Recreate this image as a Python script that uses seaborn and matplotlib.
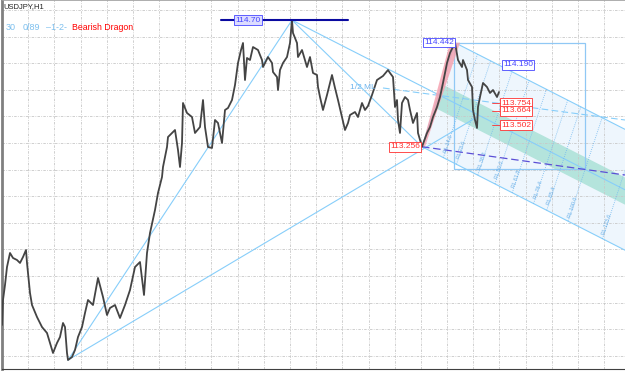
import numpy as np
import pandas as pd
import seaborn as sns
import matplotlib
matplotlib.use("Agg")
import matplotlib.pyplot as plt
from matplotlib.patches import Polygon, Rectangle

# ------------------------------------------------------------------
# data (bar index, price)
# ------------------------------------------------------------------
bars = [2, 3, 5, 7, 10, 13, 17, 20, 23, 26, 27, 28, 30, 32, 37, 42, 47, 50, 53, 57,
        60, 63, 65, 67, 68, 72, 75, 78, 82, 85, 88, 93, 98, 103, 107, 110, 115, 120, 125, 130,
        135, 140, 144, 147, 150, 155, 158, 162, 163, 167, 168, 172, 175, 178, 180, 182, 183, 187, 192, 195,
        200, 203, 205, 208, 212, 215, 218, 222, 225, 228, 232, 235, 238, 241, 243, 245, 247, 250, 253, 258,
        262, 263, 268, 272, 273, 277, 278, 280, 283, 287, 290, 292, 293, 297, 298, 302, 305, 307, 310, 313,
        317, 318, 320, 323, 327, 332, 335, 338, 342, 345, 348, 350, 355, 358, 362, 365, 368, 372, 377, 380,
        383, 388, 390, 393, 395, 397, 398, 400, 402, 405, 408, 410, 413, 417, 418, 422, 427, 430, 433, 437,
        440, 443, 447, 450, 455, 458, 462, 463, 467, 468, 472, 473, 475, 477, 478, 480, 483, 487, 490, 493,
        497, 499]
close = [111.224, 111.509, 111.680, 111.885, 112.045, 111.988, 111.965, 111.931, 111.999, 112.079,
         111.931, 111.817, 111.589, 111.452, 111.315, 111.201, 111.133, 111.019, 110.905, 111.019,
         111.087, 111.247, 111.201, 110.905, 110.825, 110.859, 110.939, 111.087, 111.201, 111.361,
         111.509, 111.452, 111.760, 111.543, 111.338, 111.418, 111.452, 111.304, 111.452, 111.623,
         111.885, 111.942, 111.566, 112.045, 112.273, 112.535, 112.729, 112.911, 113.025, 113.253,
         113.367, 113.413, 113.447, 113.219, 113.025, 113.299, 113.755, 113.641, 113.595, 113.413,
         113.481, 113.789, 113.481, 113.253, 113.242, 113.561, 113.527, 113.299, 113.675, 113.698,
         113.789, 113.960, 114.211, 114.359, 114.439, 114.017, 114.268, 114.245, 114.393, 114.359,
         114.245, 114.165, 114.279, 114.211, 114.108, 114.051, 113.903, 114.131, 114.211, 114.279,
         114.439, 114.700, 114.553, 114.439, 114.279, 114.359, 114.245, 114.165, 114.279, 114.097,
         114.074, 113.937, 113.823, 113.675, 113.846, 114.074, 113.926, 113.789, 113.595, 113.447,
         113.527, 113.618, 113.652, 113.595, 113.755, 113.675, 113.721, 113.846, 114.017, 114.040,
         114.063, 114.131, 114.097, 114.051, 113.709, 113.789, 113.561, 113.413, 113.755, 113.823,
         113.789, 113.675, 113.527, 113.641, 113.413, 113.256, 113.413, 113.481, 113.595, 113.709,
         113.823, 113.983, 114.211, 114.325, 114.442, 114.245, 114.165, 114.245, 114.131, 114.017,
         113.937, 113.675, 113.561, 113.470, 113.709, 113.823, 113.983, 113.937, 113.869, 113.903,
         113.823, 113.880]

# swing points
low_bar, low_price = 68, 110.825
top_bar, top_price = 292, 114.70
a_bar, a_price = 455, 114.442
b_bar, b_price = 422, 113.256

fib_levels = [14.6, 23.6, 38.2, 50.0, 61.8, 76.4, 85.4, 100.0, 123.6]
red_tags = [113.754, 113.664, 113.502]
blue_tag = 114.190
half_ml = [(383, 113.926), (625, 113.561)]
low_ray_end = (477, 113.595)
purple_end = (625, 112.934)
box_bottom, box_right = 113.002, 585

df = pd.DataFrame({"bar": bars, "price": close})

# ------------------------------------------------------------------
sns.set_style("white")
plt.rcParams["font.family"] = ["Liberation Sans", "DejaVu Sans"]

PX = 0.0114          # price per screen pixel
TOP = 114.929
fig = plt.figure(figsize=(6.25, 3.72), dpi=100)
ax = fig.add_axes([2 / 625, 3 / 372, 623 / 625, 369 / 372])
ax.set_xlim(2, 625)
ax.set_ylim(TOP - PX * 369, TOP)

LB = "#87cefa"

# grid
for gx in np.arange(28.2, 625, 26.18):
    ax.axvline(gx, color="#c8c8c8", lw=0.6, ls=(0, (3, 1.5, 1, 1.5)), zorder=1.5)
for gy in np.arange(114.815, 110.7, -0.3032):
    ax.axhline(gy, color="#c8c8c8", lw=0.6, ls=(0, (3, 1.5, 1, 1.5)), zorder=1.5)

# pitchfork geometry
mid_bar = (a_bar + b_bar) / 2
mid_price = (a_price + b_price) / 2
slope = (mid_price - top_price) / (mid_bar - top_bar)
xr = 625


def median(x, off=0.0):
    return top_price + slope * (x - top_bar) + off


def upper(x):
    return a_price + slope * (x - a_bar)


def lower(x):
    return b_price + slope * (x - b_bar)


# channel fill
ax.add_patch(Polygon([(a_bar, a_price), (xr, upper(xr)), (xr, lower(xr)), (b_bar, b_price)],
                     closed=True, fc="#eef6fd", ec="none", zorder=1))


def on_base(off):
    den = (a_price - b_price) - slope * (a_bar - b_bar)
    t = (median(b_bar, off) - b_price) / den
    return b_bar + t * (a_bar - b_bar), b_price + t * (a_price - b_price)


band_hi, band_lo = 0.14, -0.17
p1 = on_base(band_hi)
p2 = on_base(band_lo)
ax.add_patch(Polygon([p1, (xr, median(xr, band_hi)), (xr, median(xr, band_lo)), p2],
                     closed=True, fc="#b4e4dc", ec="none", zorder=1.2))

# pink swing band
ax.add_patch(Polygon([(b_bar, b_price), (a_bar - 5, a_price), (a_bar + 5, a_price), (b_bar + 3, b_price)],
                     closed=True, fc="#f5a3b1", ec="none", alpha=0.85, zorder=2.2))

# rectangle
ax.add_patch(Rectangle((a_bar - 1, box_bottom), box_right - a_bar + 1, a_price - box_bottom,
                       fill=False, ec="#90c8f5", lw=0.9, zorder=2))

# fan / pitchfork lines
ax.plot([low_bar, top_bar], [low_price, top_price], color=LB, lw=0.8, zorder=2)
ax.plot([low_bar, low_ray_end[0]], [low_price, low_ray_end[1]], color=LB, lw=0.8, zorder=2)
ax.plot([top_bar, b_bar], [top_price, b_price], color=LB, lw=0.8, zorder=2)
ax.plot([top_bar, xr], [top_price, median(xr)], color=LB, lw=0.8, zorder=2)
ax.plot([a_bar, xr], [a_price, upper(xr)], color=LB, lw=0.8, zorder=2)
ax.plot([b_bar, xr], [b_price, lower(xr)], color=LB, lw=0.8, zorder=2)
ax.plot([b_bar, a_bar], [b_price, a_price], color=LB, lw=0.8, zorder=2)
ax.plot([h[0] for h in half_ml], [h[1] for h in half_ml], color=LB, lw=0.8,
        ls=(0, (6, 3)), zorder=2)
ax.text(350, 113.937, "1/2 ML", color="#6cb4ee", fontsize=6, va="center", zorder=4)
ax.plot([b_bar, purple_end[0]], [b_price, purple_end[1]], color="#5b4fd6", lw=0.9,
        ls=(0, (6, 3)), zorder=2.5)

# fib time lines across the channel
gap = upper(0) - lower(0)
s_len = gap / (PX - 0.33 * slope)
for lv in fib_levels:
    xl = b_bar + 1.46 * lv
    yl = lower(xl)
    ax.plot([xl, xl + 0.33 * s_len], [yl, yl + PX * s_len], color="#70b8f0", lw=0.6,
            ls=(0, (1, 1.5)), zorder=2)
    ax.text(xl + 0.33 * 14, yl + PX * 14, "RL %.1f" % lv, color="#6ab0e8", fontsize=3.8,
            rotation=71.7, ha="center", va="center", rotation_mode="anchor", zorder=4)

# price series
sns.lineplot(data=df, x="bar", y="price", ax=ax, color="#444444", lw=1.3,
             estimator=None, sort=False, zorder=3)

# top level line and tags
ax.plot([221, 348], [top_price, top_price], color="#0a0aa0", lw=1.5, zorder=3.5)


def tag(x, y, s, color, ha, fc="white"):
    ax.text(x, y, s, color=color, fontsize=6, ha=ha, va="center", zorder=5,
            bbox=dict(boxstyle="square,pad=0.15", fc=fc, ec=color, lw=0.6))


tag(248, top_price, "114.70", "#4646ff", "center", fc="#dcdcff")
tag(a_bar - 1, a_price, "%.3f" % a_price, "#4646ff", "right")
tag(503, blue_tag, "%.3f" % blue_tag, "#4646ff", "left")
tag(b_bar - 2, b_price, "%.3f" % b_price, "#ff3030", "right")
for lv in red_tags:
    ax.plot([492, 500], [lv, lv], color="#ff3030", lw=0.6, zorder=4)
    tag(501, lv, "%.3f" % lv, "#ff3030", "left")

# header texts
fig.text(3 / 625, 1 - 7 / 372, "USDJPY,H1", fontsize=5.5, color="#222222", va="center")
fig.text(6 / 625, 1 - 27 / 372, "30", fontsize=6.5, color="#7ec0ee", va="center")
fig.text(23 / 625, 1 - 27 / 372, "0/89", fontsize=6.5, color="#7ec0ee", va="center")
fig.text(46 / 625, 1 - 27 / 372, "\u20131-2-", fontsize=6.5, color="#7ec0ee", va="center")
fig.text(72 / 625, 1 - 27 / 372, "Bearish Dragon", fontsize=6.3, color="#ff0000", va="center")

# frame
ax.set_xlabel("")
ax.set_ylabel("")
ax.set_yticks([])
ax.set_xticks(np.arange(55, 625, 52.4))
ax.tick_params(axis="x", length=2.5, width=0.6, color="#404040", labelbottom=False, direction="out")
ax.spines["right"].set_visible(False)
ax.spines["left"].set_color("#808080")
ax.spines["left"].set_linewidth(2)
ax.spines["bottom"].set_color("#404040")
ax.spines["bottom"].set_linewidth(0.8)
ax.spines["top"].set_color("#a0a0a0")
ax.spines["top"].set_linewidth(0.6)

fig.savefig("out.png", dpi=100)
